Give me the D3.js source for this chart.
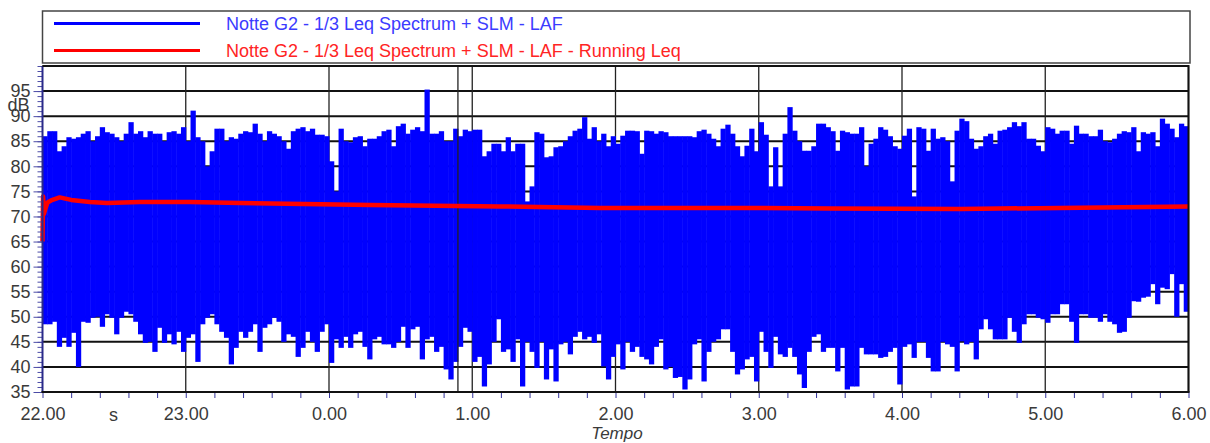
<!DOCTYPE html>
<html>
<head>
<meta charset="utf-8">
<script src="https://cdn.jsdelivr.net/npm/d3@7/dist/d3.min.js"></script>
<style>
  body { margin: 0; background: #fff; }
  svg { display: block; font-family: "Liberation Sans", Arial, sans-serif; }
</style>
</head>
<body>
<svg id="chart"></svg>
<script>
// legend names
const seriesNames = [
  "Notte G2 - 1/3 Leq Spectrum + SLM - LAF",
  "Notte G2 - 1/3 Leq Spectrum + SLM - LAF - Running Leq"
];

// time axis: hours after 22.00, labels every hour
const startHour = 22;
const hourTicks = [0, 1, 2, 3, 4, 5, 6, 7, 8];
const dbLabels = [35, 40, 45, 50, 55, 60, 65, 70, 75, 80, 85, 90, 95];

// LAF read as max / min per 2 minute slot (240 slots, 22.00 -> 6.00)
const binMinutes = 2;
const lafMax = [
  86, 87, 87, 83, 84, 85.8, 85.5, 85.8, 86.5, 87, 85, 86, 87.8, 86.8, 86.5, 85.8, 85, 86.5, 88.8, 86.5,
  87, 85.8, 87, 86.5, 86.5, 85, 86.8, 87, 86.5, 87.8, 85, 91.1, 85.8, 85, 80, 83, 87.5, 87.5, 85, 85.8,
  85.5, 86.5, 87, 86.8, 88.5, 86.5, 85, 87,
  86.5, 86, 85, 83.5, 87, 87.5, 87.8, 87, 87.5, 86.3, 86.3, 86, 81, 75, 87.5, 85, 84.8, 85.8, 86, 84,
  85.5, 85.5, 86, 87, 87.3, 84, 88, 88.5, 86.5, 87.3, 87.8, 87, 95.3, 86.5, 86.5, 87, 85, 85, 87.5, 86,
  87.3, 87, 87.3, 87.3, 82, 83, 84.5, 84.5,
  83, 85.8, 83, 84.5, 84.5, 73, 76, 86.8, 86.5, 81.8, 82, 83.8, 84, 85, 86, 87.1, 87.5, 89.8, 85.5, 87.8,
  85, 86.5, 84, 86, 84.5, 86.1, 87.1, 87.1, 87, 82.5, 87.1, 87, 86.5, 87, 86.8, 86, 86, 86, 86, 86,
  85.8, 87, 87.3, 86.5, 85.5, 84, 87.5, 88.3,
  86.5, 84, 82, 84.1, 87.5, 83, 88.8, 86.3, 76, 83.8, 76, 86.5, 91.8, 87.1, 85, 83.1, 83.1, 84, 88.5, 88.5,
  87.8, 87, 83.1, 87.1, 86.8, 86.5, 86.5, 87.8, 80, 84.5, 85.5, 87.8, 87.3, 86, 84, 83.5, 86.1, 87.5, 74, 87.8,
  87.5, 83.1, 87.5, 85.5, 85.8, 85, 77, 87.1,
  89.5, 89, 85.5, 83.5, 84, 86, 86.5, 84.5, 87.1, 87.3, 87.8, 88.8, 88, 88.8, 85.5, 85.5, 84.1, 83, 87.8, 87.5,
  86.5, 87.1, 87.1, 84.5, 88.1, 86.5, 86.5, 86, 86, 87.3, 85, 84.8, 85.5, 86.5, 87, 86.8, 87.8, 83, 86.8, 86.5,
  86.8, 84, 89.5, 88.5, 87.5, 85.8, 88.5, 88
];
const lafMin = [
  48.5, 48.5, 49, 44, 45.8, 44, 46.8, 40, 49, 48.8, 49.8, 50, 48, 50.5, 49.8, 46.5, 49.8, 51, 50.5, 49,
  46.5, 44.8, 45, 43, 47.8, 44.8, 46.5, 44.5, 47, 43, 45.8, 46.5, 41, 48.5, 49.8, 50.5, 48.5, 47, 45.8, 40.5,
  43.8, 47, 45.8, 47, 48.5, 43, 47.8, 48.5,
  49.8, 49, 45, 46.5, 46, 42, 43.8, 47, 45, 43, 47, 48.5, 40.8, 45.5, 43.8, 46, 43.8, 46.5, 47, 44,
  41.5, 45.5, 46, 44.5, 44.5, 43.8, 45, 48, 43.8, 47.5, 48, 41.5, 45.5, 46, 43, 44, 39.5, 37.5, 41, 44,
  47.8, 47, 41, 42, 36.1, 40.5, 45, 49.5,
  43, 43.5, 41, 45.5, 36.1, 45, 43, 39.8, 45, 37.5, 43.5, 37.1, 44.5, 45, 42.5, 46, 47, 45.5, 46, 44.8,
  46.5, 40.1, 37.5, 42, 44.5, 39.5, 45, 43, 44, 42, 41.5, 40.5, 44, 45.5, 39.5, 40, 37.8, 38, 35.5, 37.5,
  44.5, 45.5, 37.1, 43, 45, 45.5, 47.5, 47.5,
  43, 38.5, 39.5, 41.5, 42, 37.1, 47, 43, 39.8, 46, 42.5, 42, 43.8, 42, 38.5, 35.8, 43, 46, 46.5, 43,
  43.8, 43.8, 39.1, 43.8, 35.5, 36.1, 36.1, 43.8, 42.5, 42.5, 42.5, 41.8, 42, 43, 43.8, 36.5, 44, 44.5, 41.8, 45,
  45, 41.8, 39.1, 39.1, 45, 44.5, 44, 39.1,
  45.1, 44.5, 45, 41.5, 47.5, 49.5, 47.5, 45.5, 45.5, 45.5, 49.8, 47, 44.8, 48.5, 50.5, 50.5, 49.8, 49.5, 48.8, 50.5,
  50.5, 52.5, 52.5, 49, 44.8, 50.5, 50.5, 49.8, 49.8, 49, 50.5, 49, 48.5, 46.8, 47, 49.8, 53.1, 53, 53.8, 54,
  56.5, 52.5, 55.8, 55.5, 58.5, 50, 56.5, 51
];

// running Leq
const leqHours = [0, 0.004, 0.01, 0.02, 0.035, 0.06, 0.12, 0.2, 0.33, 0.45, 0.68, 1.03, 1.38, 1.59,
  2.29, 3.19, 3.89, 4.8, 5.5, 6.41, 7.1, 8];
const leqValues = [65, 74, 70.5, 71.5, 72.8, 73.2, 73.8, 73.3, 72.9, 72.7, 72.9, 72.9, 72.7, 72.6,
  72.3, 72.0, 71.7, 71.7, 71.6, 71.5, 71.7, 72.0];

// cursor line
const markerHours = [2.9];

const width = 1210;
const height = 443;
const marginTop = 66;
const marginRight = 21.5;
const marginBottom = 51;
const marginLeft = 42.5;

const x = d3.scaleLinear([0, 8], [marginLeft, width - marginRight]);
const y = d3.scaleLinear([35, 100], [height - marginBottom, marginTop]);
const binH = binMinutes / 60;

const svg = d3.select("#chart")
    .attr("width", width)
    .attr("height", height)
    .attr("viewBox", [0, 0, width, height]);

// horizontal grid
svg.append("g")
  .selectAll("line")
  .data(d3.range(35, 101, 5))
  .join("line")
    .attr("x1", marginLeft).attr("x2", width - marginRight)
    .attr("y1", d => y(d)).attr("y2", d => y(d))
    .attr("stroke", "#111").attr("stroke-width", 2);

// vertical grid
svg.append("g")
  .selectAll("line")
  .data(hourTicks.slice(1))
  .join("line")
    .attr("x1", d => x(d)).attr("x2", d => x(d))
    .attr("y1", y(100)).attr("y2", y(35))
    .attr("stroke", "#222").attr("stroke-width", 1.3);

// LAF band
svg.append("g")
    .attr("fill", "#0000ff")
  .selectAll("rect")
  .data(lafMax)
  .join("rect")
    .attr("x", (d, i) => x(i * binH))
    .attr("width", (d, i) => x((i + 1) * binH) - x(i * binH) + 0.5)
    .attr("y", d => y(d))
    .attr("height", (d, i) => y(lafMin[i]) - y(d));

// cursor
svg.append("g")
  .selectAll("line")
  .data(markerHours)
  .join("line")
    .attr("x1", d => x(d)).attr("x2", d => x(d))
    .attr("y1", y(100)).attr("y2", y(35))
    .attr("stroke", "#222").attr("stroke-width", 1.3);

// running Leq line
const line = d3.line()
    .x((d, i) => x(leqHours[i]))
    .y(d => y(d));

svg.append("path")
    .attr("fill", "none")
    .attr("stroke", "#ff0000")
    .attr("stroke-width", 4.5)
    .attr("stroke-linejoin", "round")
    .attr("d", line(leqValues));

// y axis: minor ticks then labelled ticks
svg.append("g")
    .attr("transform", `translate(${marginLeft},0)`)
    .call(d3.axisLeft(y).tickValues(d3.range(35, 101, 1)).tickSize(5).tickFormat(""))
    .call(g => g.select(".domain").remove())
    .call(g => g.selectAll(".tick line").attr("stroke", "#4b4ba6"));

svg.append("g")
    .attr("transform", `translate(${marginLeft},0)`)
    .call(d3.axisLeft(y).tickValues(dbLabels).tickSize(9).tickPadding(3))
    .call(g => g.select(".domain").remove())
    .call(g => g.selectAll(".tick line").attr("stroke", "#4b4ba6"))
    .call(g => g.selectAll(".tick text")
        .attr("font-size", 18)
        .attr("font-family", "Liberation Sans, Arial, sans-serif")
        .attr("fill", "#3a3a3a"));

svg.append("line")
    .attr("x1", marginLeft).attr("x2", marginLeft)
    .attr("y1", y(100)).attr("y2", y(35))
    .attr("stroke", "#2a2a8a").attr("stroke-width", 2);

svg.append("text")
    .attr("x", 29.5).attr("y", 104.5)
    .attr("dy", "0.35em")
    .attr("text-anchor", "end")
    .attr("font-size", 18)
    .attr("fill", "#3a3a3a")
    .text("dB");

// x axis
svg.append("g")
    .attr("transform", `translate(0,${height - marginBottom})`)
    .call(d3.axisBottom(x).tickValues(d3.range(0, 8.01, 0.2)).tickSize(6).tickFormat(""))
    .call(g => g.select(".domain").remove())
    .call(g => g.selectAll(".tick line").attr("stroke", "#33339a"));

svg.append("g")
    .attr("transform", `translate(0,${height - marginBottom})`)
    .call(d3.axisBottom(x).tickValues(hourTicks).tickSize(0).tickPadding(15.7)
        .tickFormat(h => ((startHour + h) % 24).toFixed(2)))
    .call(g => g.select(".domain").remove())
    .call(g => g.selectAll(".tick text")
        .attr("font-size", 18)
        .attr("font-family", "Liberation Sans, Arial, sans-serif")
        .attr("fill", "#3a3a3a"));

svg.append("line")
    .attr("x1", marginLeft - 1).attr("x2", width - marginRight + 1)
    .attr("y1", y(35)).attr("y2", y(35))
    .attr("stroke", "#111").attr("stroke-width", 2);

svg.append("text")
    .attr("x", 113.5).attr("y", 420.5)
    .attr("text-anchor", "middle")
    .attr("font-size", 18)
    .attr("fill", "#3a3a3a")
    .text("s");

svg.append("text")
    .attr("x", 617).attr("y", 439)
    .attr("text-anchor", "middle")
    .attr("font-size", 17)
    .attr("font-style", "italic")
    .attr("fill", "#3a3a3a")
    .text("Tempo");

// plot border top/right
svg.append("path")
    .attr("fill", "none")
    .attr("stroke", "#111")
    .attr("stroke-width", 2)
    .attr("d", `M${marginLeft},${y(100)}H${width - marginRight}V${y(35)}`);

// legend
const legend = svg.append("g");
legend.append("rect")
    .attr("x", 42.5).attr("y", 11)
    .attr("width", 1147.5).attr("height", 52)
    .attr("fill", "none")
    .attr("stroke", "#444")
    .attr("stroke-width", 1.5);

const legendColors = ["#0000ff", "#ff0000"];
const legendText = ["#3b3bff", "#ff2424"];
const legendY = [23.5, 50.5];

legend.selectAll("line")
  .data(seriesNames)
  .join("line")
    .attr("x1", 54).attr("x2", 200)
    .attr("y1", (d, i) => legendY[i]).attr("y2", (d, i) => legendY[i])
    .attr("stroke", (d, i) => legendColors[i])
    .attr("stroke-width", 3);

legend.selectAll("text")
  .data(seriesNames)
  .join("text")
    .attr("x", 226)
    .attr("y", (d, i) => legendY[i])
    .attr("dy", "0.35em")
    .attr("font-size", 18)
    .attr("fill", (d, i) => legendText[i])
    .text(d => d);
</script>
</body>
</html>
